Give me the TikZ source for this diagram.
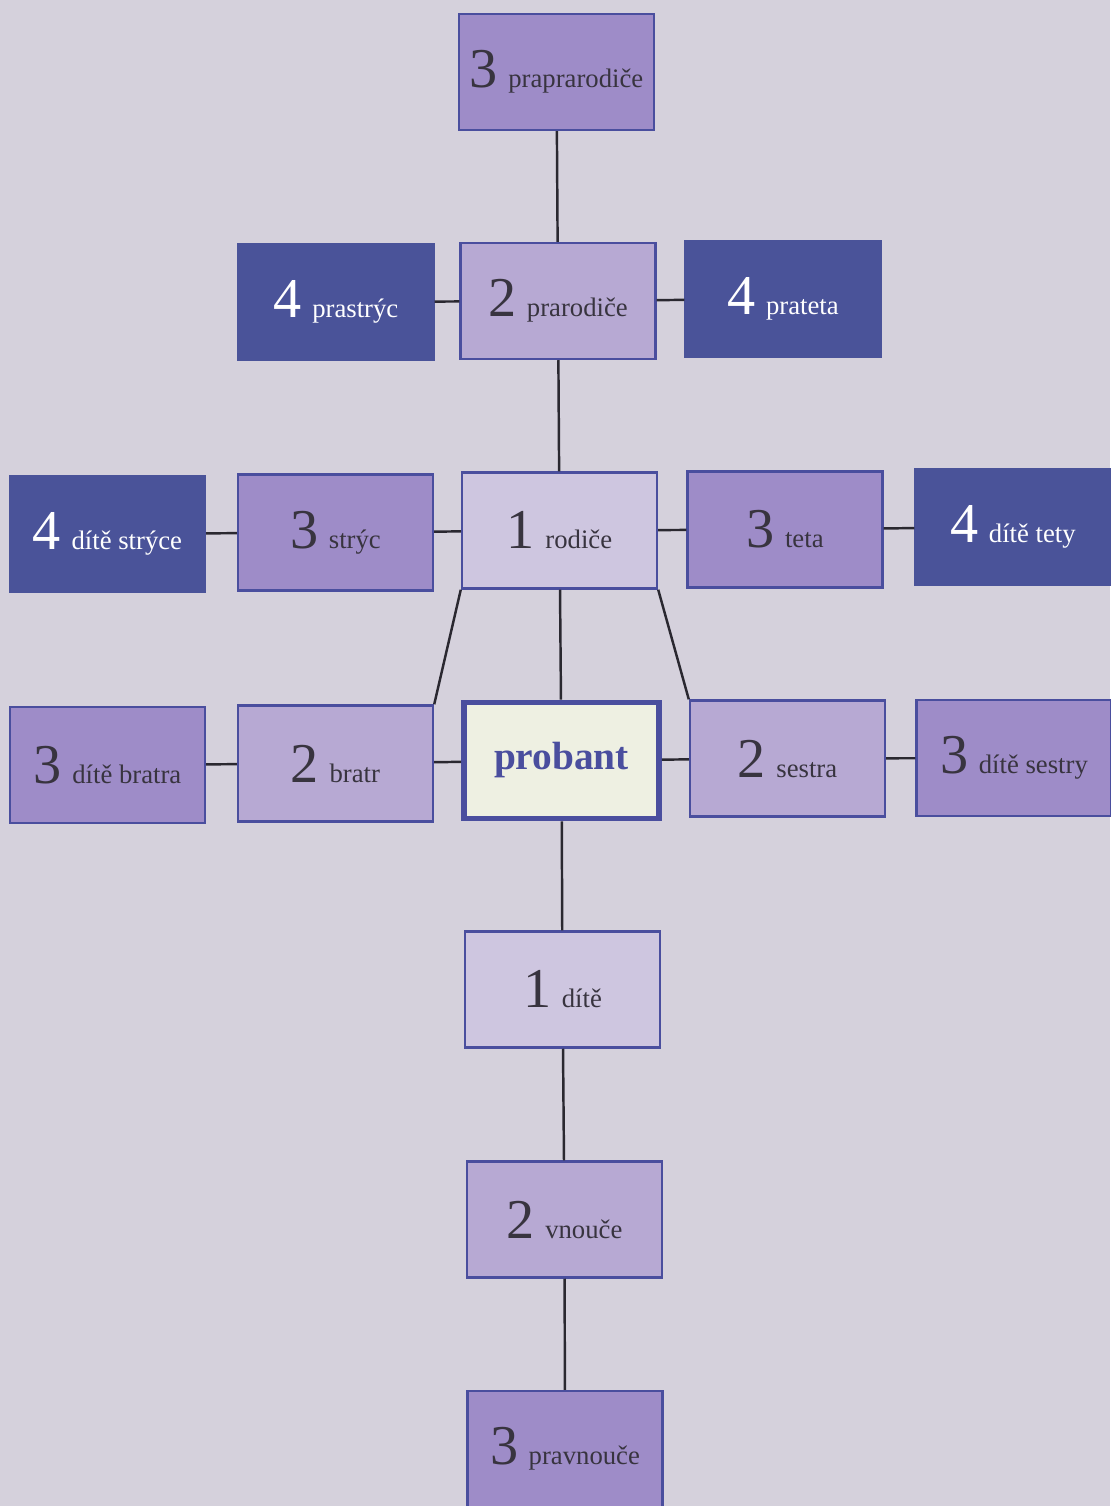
\documentclass[tikz,border=0pt]{standalone}
\usepackage{fontspec}
\setmainfont{Liberation Serif}
\definecolor{paper}{HTML}{D5D1DC}
\definecolor{edgeblue}{HTML}{4A4E9E}
\definecolor{lilacA}{HTML}{CEC6E0}
\definecolor{lilacB}{HTML}{B7A9D3}
\definecolor{lilacC}{HTML}{9E8CC8}
\definecolor{navy}{HTML}{4A5399}
\definecolor{cream}{HTML}{EEF0E2}
\definecolor{ink}{HTML}{38343F}
\definecolor{wire}{HTML}{2A2830}
\newcommand{\kin}[2]{{\fontsize{16}{16}\selectfont #1}\hspace{3pt}{\fontsize{7.6}{8}\selectfont #2}}

\begin{document}
\begin{tikzpicture}
[block/.style ={rectangle, draw=edgeblue, line width=0.7pt, text=ink, minimum width=1.95cm, minimum height=1.16cm, inner sep=0pt},
 block1/.style ={block, fill=lilacA},
 block2/.style ={block, fill=lilacB},
 block3/.style ={block, fill=lilacC},
 block4/.style ={block, draw=navy, fill=navy, text=white},
 probblock/.style ={block, fill=cream, line width=1.6pt, text=edgeblue, font=\fontsize{11.2}{12}\selectfont\bfseries},
 line/.style ={draw=wire, line width=0.7pt}]
\fill[paper] (0,0) rectangle (11.10,-15.06);
\useasboundingbox (0,0) rectangle (11.10,-15.06);
% generations up
\path (5.565,-0.72) node[block3] (ppr){\kin{3}{praprarodiče}}
      (3.36,-3.02) node[block4] (pstr){\kin{4}{prastrýc}}
      (5.58,-3.01) node[block2] (prar){\kin{2}{prarodiče}}
      (7.83,-2.99) node[block4] (ptet){\kin{4}{prateta}};
\path (1.075,-5.34) node[block4] (dstr){\kin{4}{dítě strýce}}
      (3.355,-5.325) node[block3] (str){\kin{3}{strýc}}
      (5.595,-5.305) node[block1] (rod){\kin{1}{rodiče}}
      (7.85,-5.295) node[block3] (tet){\kin{3}{teta}}
      (10.13,-5.27) node[block4] (dtet){\kin{4}{dítě tety}};
% probant row
\path (1.075,-7.65) node[block3] (dbr){\kin{3}{dítě bratra}}
      (3.355,-7.635) node[block2] (br){\kin{2}{bratr}}
      (5.615,-7.605) node[probblock] (prob){probant}
      (7.875,-7.585) node[block2] (ses){\kin{2}{sestra}}
      (10.14,-7.58) node[block3] (dses){\kin{3}{dítě sestry}};
% generations down
\path (5.625,-9.895) node[block1] (dit){\kin{1}{dítě}}
      (5.645,-12.195) node[block2] (vn){\kin{2}{vnouče}}
      (5.65,-14.49) node[block3] (pvn){\kin{3}{pravnouče}};
\draw[line] (ppr) -- (prar);
\draw[line] (pstr) -- (prar);
\draw[line] (prar) -- (ptet);
\draw[line] (prar) -- (rod);
\draw[line] (dstr) -- (str);
\draw[line] (str) -- (rod);
\draw[line] (rod) -- (tet);
\draw[line] (tet) -- (dtet);
\draw[line] (rod) -- (prob);
\draw[line] (rod.south west) -- (br.north east);
\draw[line] (rod.south east) -- (ses.north west);
\draw[line] (dbr) -- (br);
\draw[line] (br) -- (prob);
\draw[line] (prob) -- (ses);
\draw[line] (ses) -- (dses);
\draw[line] (prob) -- (dit);
\draw[line] (dit) -- (vn);
\draw[line] (vn) -- (pvn);
\end{tikzpicture}
\end{document}
